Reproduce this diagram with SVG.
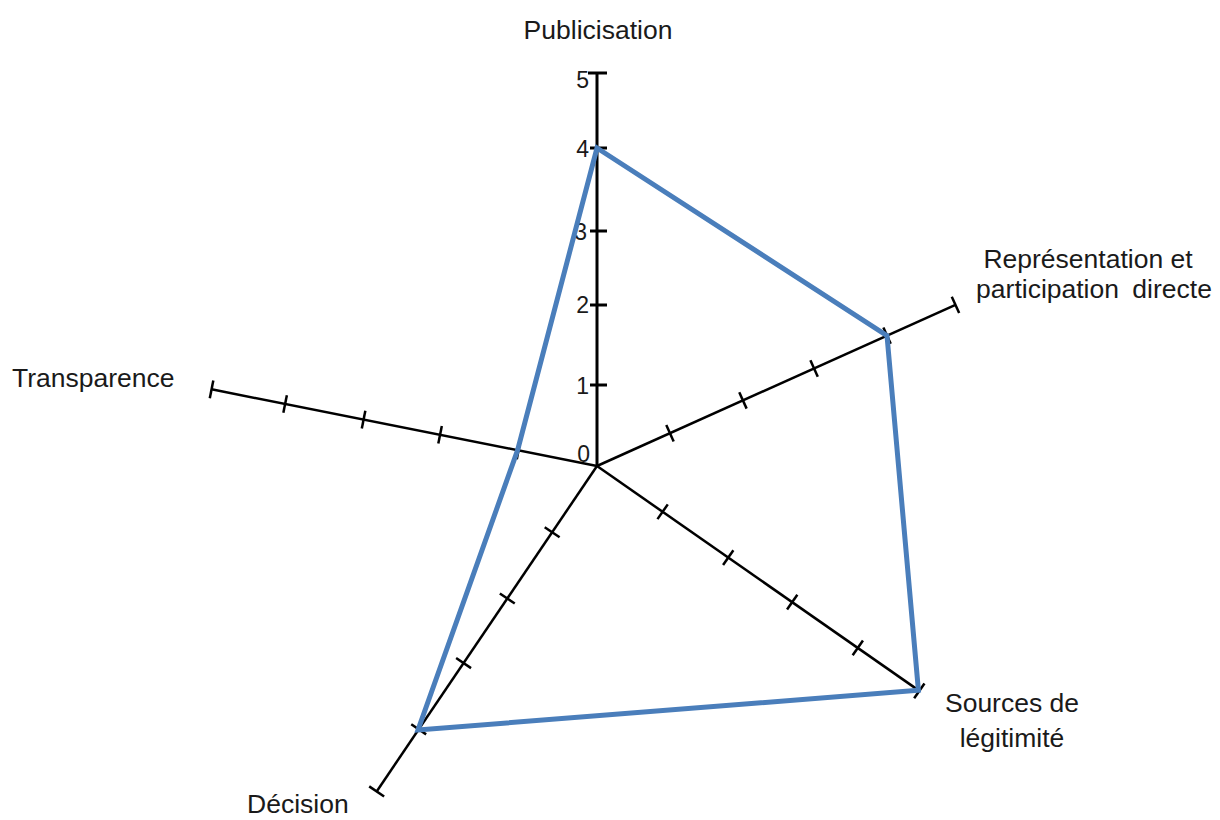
<svg xmlns="http://www.w3.org/2000/svg" width="1220" height="820" viewBox="0 0 1220 820">
  <style>
    .lbl { font-family: "Liberation Sans", Arial, sans-serif; font-size: 26.5px; fill: #1a1a1a; }
    .num { font-family: "Liberation Sans", Arial, sans-serif; font-size: 23px; fill: #1a1a1a; text-anchor: end; }
    .axis { stroke: #000; stroke-width: 2.5; fill: none; }
    .vaxis { stroke: #000; stroke-width: 3; fill: none; }
    .data { stroke: #4a7ebb; stroke-width: 5; fill: none; stroke-linejoin: miter; }
  </style>
  <defs>
    <g id="axisShape">
      <line class="axis" x1="0" y1="0" x2="393" y2="0"/>
      <line class="axis" x1="80" y1="-9" x2="80" y2="9"/>
      <line class="axis" x1="160" y1="-9" x2="160" y2="9"/>
      <line class="axis" x1="238" y1="-9" x2="238" y2="9"/>
      <line class="axis" x1="318" y1="-9" x2="318" y2="9"/>
      <line class="axis" x1="393" y1="-9" x2="393" y2="9"/>
    </g>
  </defs>
  <rect width="1220" height="820" fill="#fff"/>

  <g id="connectors">
    <g id="axis-publicisation">
      <line class="vaxis" x1="597" y1="466" x2="597" y2="73"/>
      <line class="vaxis" x1="588" y1="73" x2="607" y2="73"/>
      <line class="vaxis" x1="590" y1="148" x2="607" y2="148"/>
      <line class="vaxis" x1="590" y1="231" x2="607" y2="231"/>
      <line class="vaxis" x1="590" y1="305" x2="607" y2="305"/>
      <line class="vaxis" x1="590" y1="385" x2="607" y2="385"/>
    </g>
    <use id="axis-representation" href="#axisShape" transform="translate(597,466) rotate(-24.2)"/>
    <use id="axis-sources" href="#axisShape" transform="translate(597,466) rotate(34.9)"/>
    <use id="axis-decision" href="#axisShape" transform="translate(597,466) rotate(124.1)"/>
    <use id="axis-transparence" href="#axisShape" transform="translate(597,466) rotate(191.25)"/>
  </g>

  <g id="scale">
    <text class="num" x="589" y="88">5</text>
    <text class="num" x="589" y="157">4</text>
    <text class="num" x="587" y="240">3</text>
    <text class="num" x="589" y="313">2</text>
    <text class="num" x="589" y="394">1</text>
    <text class="num" x="590" y="462">0</text>
  </g>

  <g id="data">
    <polygon class="data" points="597,148 887,335.6 918.4,690.2 418,730 517.6,450.2"/>
  </g>

  <g id="node-publicisation">
    <text class="lbl" x="598" y="39" text-anchor="middle">Publicisation</text>
  </g>
  <g id="node-representation">
    <text class="lbl" x="1088" y="268" text-anchor="middle">Représentation et</text>
    <text class="lbl" x="1094" y="298" text-anchor="middle" word-spacing="6">participation directe</text>
  </g>
  <g id="node-transparence">
    <text class="lbl" x="12" y="387">Transparence</text>
  </g>
  <g id="node-sources">
    <text class="lbl" x="1012" y="712" text-anchor="middle">Sources de</text>
    <text class="lbl" x="1012" y="747" text-anchor="middle">légitimité</text>
  </g>
  <g id="node-decision">
    <text class="lbl" x="247" y="813">Décision</text>
  </g>
</svg>
